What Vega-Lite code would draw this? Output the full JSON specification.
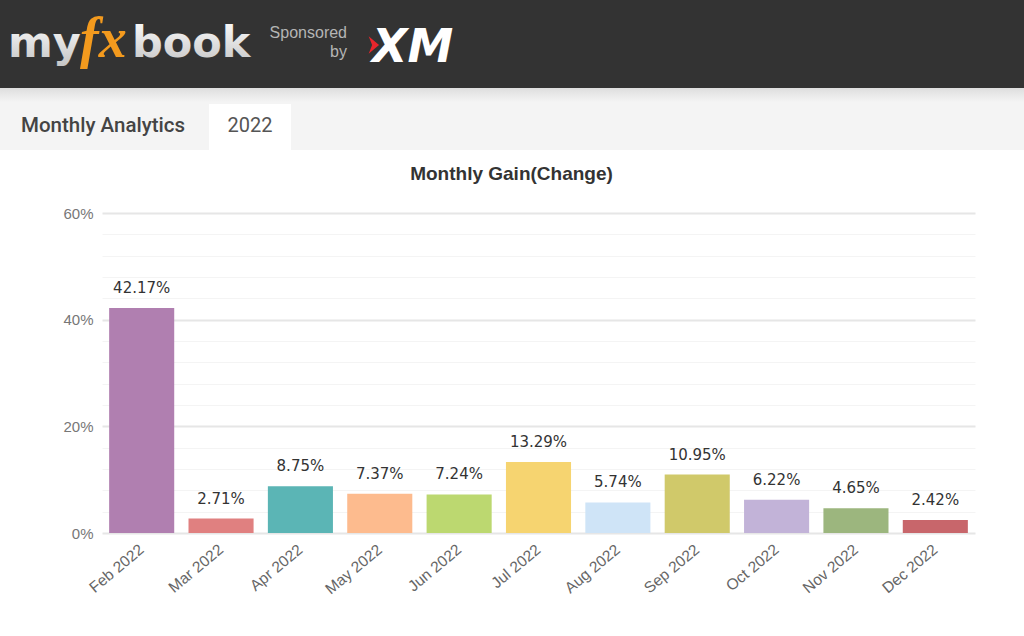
{
  "$schema": "https://vega.github.io/schema/vega-lite/v6.json",
  "padding": 0,
  "background": "#ffffff",
  "config": {"view": {"stroke": null}},
  "spacing": 15,
  "vconcat": [
    {
      "spacing": 0,
      "vconcat": [
        {
          "width": 922,
          "height": 88,
          "data": {"values": [{}]},
          "layer": [
            {"mark": {"type": "rect", "x": -102, "x2": 922, "y": 0, "y2": 88, "fill": "#333333", "clip": false}},
            {"mark": {"type": "text", "text": "my", "x": -94, "y": 57, "align": "left", "baseline": "alphabetic", "font": "DejaVu Sans", "fontWeight": "bold", "fontSize": 43, "fill": {"gradient": "linear", "x1": 0, "y1": 0, "x2": 0, "y2": 1, "stops": [{"offset": 0, "color": "#ffffff"}, {"offset": 1, "color": "#c4c4c4"}]}}},
            {"mark": {"type": "text", "text": "fx", "x": -22, "y": 57, "align": "left", "baseline": "alphabetic", "font": "Liberation Serif", "fontStyle": "italic", "fontWeight": "bold", "fontSize": 56, "fill": "#f39a1e"}},
            {"mark": {"type": "text", "text": "book", "x": 30, "y": 57, "align": "left", "baseline": "alphabetic", "font": "DejaVu Sans", "fontWeight": "bold", "fontSize": 43, "fill": {"gradient": "linear", "x1": 0, "y1": 0, "x2": 0, "y2": 1, "stops": [{"offset": 0, "color": "#ffffff"}, {"offset": 1, "color": "#c4c4c4"}]}}},
            {"mark": {"type": "text", "text": "Sponsored", "x": 245, "y": 38, "align": "right", "baseline": "alphabetic", "font": "Liberation Sans", "fontSize": 16, "fill": "#b5b5b5"}},
            {"mark": {"type": "text", "text": "by", "x": 245, "y": 57, "align": "right", "baseline": "alphabetic", "font": "Liberation Sans", "fontSize": 16, "fill": "#b5b5b5"}},
            {"mark": {"type": "point", "shape": "M -0.5 -1 L 0.7 0 L -0.5 1 L -0.1 0 Z", "x": 271, "y": 45, "size": 300, "filled": true, "fill": "#e8262c", "opacity": 1, "strokeWidth": 0}},
            {"mark": {"type": "text", "text": "XM", "x": 270, "y": 62, "align": "left", "baseline": "alphabetic", "font": "DejaVu Sans", "fontStyle": "italic", "fontWeight": "bold", "fontSize": 46, "fill": "#ffffff"}}
          ]
        },
        {
          "width": 922,
          "height": 62,
          "data": {"values": [{}]},
          "layer": [
            {"mark": {"type": "rect", "x": -102, "x2": 922, "y": 0, "y2": 62, "fill": "#f4f4f4", "clip": false}},
            {"mark": {"type": "rect", "x": -102, "x2": 922, "y": 0, "y2": 14, "fill": {"gradient": "linear", "x1": 0, "y1": 0, "x2": 0, "y2": 1, "stops": [{"offset": 0, "color": "#dedede"}, {"offset": 1, "color": "#f4f4f4"}]}}},
            {"mark": {"type": "rect", "x": 107, "x2": 189, "y": 16, "y2": 62, "fill": "#ffffff"}},
            {"mark": {"type": "text", "text": "Monthly Analytics", "x": -81, "y": 38, "align": "left", "baseline": "middle", "font": "Roboto", "fontWeight": 500, "fontSize": 20.5, "fill": "#444444"}},
            {"mark": {"type": "text", "text": "2022", "x": 148, "y": 38, "align": "center", "baseline": "middle", "font": "Roboto", "fontSize": 20, "fill": "#555555"}}
          ]
        }
      ]
    },
    {
      "width": 873,
      "height": 320,
      "title": {"text": "Monthly Gain(Change)", "font": "Liberation Sans", "fontSize": 19, "fontWeight": "bold", "color": "#333333", "frame": "group", "anchor": "middle", "dx": -27, "offset": 22},
      "data": {"values": [
        {"month": "Feb 2022", "gain": 0.4217},
        {"month": "Mar 2022", "gain": 0.0271},
        {"month": "Apr 2022", "gain": 0.0875},
        {"month": "May 2022", "gain": 0.0737},
        {"month": "Jun 2022", "gain": 0.0724},
        {"month": "Jul 2022", "gain": 0.1329},
        {"month": "Aug 2022", "gain": 0.0574},
        {"month": "Sep 2022", "gain": 0.1095},
        {"month": "Oct 2022", "gain": 0.0622},
        {"month": "Nov 2022", "gain": 0.0465},
        {"month": "Dec 2022", "gain": 0.0242}
      ]},
      "encoding": {
        "x": {"field": "month", "type": "nominal", "sort": null, "title": null,
          "scale": {"paddingInner": 0.18, "paddingOuter": 0.09},
          "axis": {"labelAngle": -40, "labelAlign": "right", "labelBaseline": "middle", "labelPadding": 14, "ticks": false, "domain": false, "labelFont": "Liberation Sans", "labelFontSize": 15.5, "labelColor": "#666666", "labelOffset": 0}},
        "y": {"field": "gain", "type": "quantitative", "title": null,
          "scale": {"domain": [0, 0.6], "nice": false},
          "axis": {"values": [0, 0.04, 0.08, 0.12, 0.16, 0.2, 0.24, 0.28, 0.32, 0.36, 0.4, 0.44, 0.48, 0.52, 0.56, 0.6],
            "format": ".0%", "labelExpr": "round(datum.value*100) % 20 === 0 ? datum.label : ''",
            "ticks": false, "domain": false, "labelPadding": 9, "minExtent": 102,
            "labelFont": "Liberation Sans", "labelFontSize": 15, "labelColor": "#777777",
            "gridColor": {"condition": {"test": "round(datum.value*100) % 20 === 0", "value": "#e6e6e6"}, "value": "#f4f4f4"},
            "gridWidth": {"condition": {"test": "round(datum.value*100) % 20 === 0", "value": 2}, "value": 1}}}
      },
      "layer": [
        {"mark": {"type": "bar"},
          "encoding": {"color": {"field": "month", "type": "nominal", "sort": null, "legend": null,
            "scale": {"domain": ["Feb 2022", "Mar 2022", "Apr 2022", "May 2022", "Jun 2022", "Jul 2022", "Aug 2022", "Sep 2022", "Oct 2022", "Nov 2022", "Dec 2022"],
              "range": ["#b07fb0", "#e08080", "#5bb5b5", "#fdbb8e", "#bcd870", "#f6d470", "#cfe4f7", "#d0c96a", "#c2b3d8", "#9cb67e", "#c8666b"]}}}},
        {"mark": {"type": "text", "baseline": "alphabetic", "dy": -15, "font": "DejaVu Sans", "fontSize": 15, "fill": "#333333"},
          "encoding": {"text": {"field": "gain", "type": "quantitative", "format": ".2%"}}}
      ]
    }
  ]
}
